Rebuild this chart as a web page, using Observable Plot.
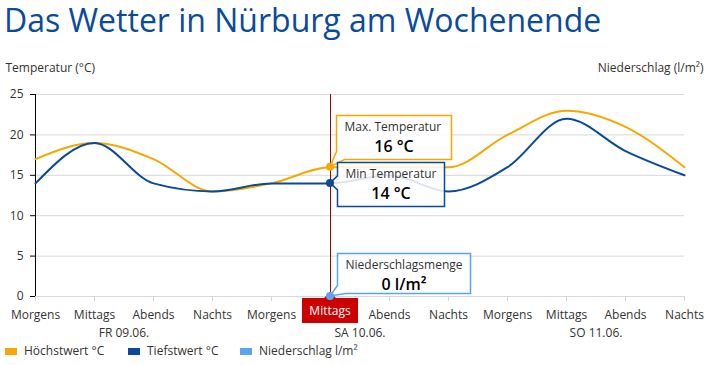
<!DOCTYPE html>
<html>
<head>
<meta charset="utf-8">
<script src="https://cdn.jsdelivr.net/npm/d3@7"></script>
<script src="https://cdn.jsdelivr.net/npm/@observablehq/plot@0.6"></script>
<style>
  html, body { margin: 0; padding: 0; background: #fff; }
  #wrap { position: relative; width: 707px; height: 365px; font-family: "Open Sans", sans-serif; overflow: hidden; }
  #title { position: absolute; left: 4px; top: 2px; font-size: 32px; line-height: 36px; color: #0a4b9b; white-space: nowrap; }
  #chart { position: absolute; left: 0; top: 50px; }
  #legend { position: absolute; left: 0; top: 342px; width: 707px; height: 20px; font-size: 12px; color: #333; line-height: 18px; }
  .item { position: absolute; top: 0; display: flex; align-items: center; white-space: nowrap; }
  .sw { width: 12px; height: 7px; margin-right: 7px; }
</style>
</head>
<body>
<div id="wrap">
  <div id="title">Das Wetter in Nürburg am Wochenende</div>
  <div id="chart"></div>
  <div id="legend"></div>
</div>
<script>
// ---- data ----
const times = ["Morgens", "Mittags", "Abends", "Nachts", "Morgens", "Mittags", "Abends", "Nachts", "Morgens", "Mittags", "Abends", "Nachts"];
const maxTemp = [17, 19, 17, 13, 14, 16, 16, 16, 20, 23, 21, 16];
const minTemp = [14, 19, 14, 13, 14, 14, 15, 13, 16, 22, 18, 15];
const precip = [0, 0, 0, 0, 0, 0, 0, 0, 0, 0, 0, 0];
const days = ["FR 09.06.", "SA 10.06.", "SO 11.06."];
const dayPos = [1.5, 5.5, 9.5];
const yTicks = [0, 5, 10, 15, 20, 25];
const seriesNames = ["Höchstwert °C", "Tiefstwert °C", "Niederschlag l/m²"];
const selected = 5;

const C = { max: "#f7a800", min: "#0a4a98", rain: "#5aa5f0", red: "#cc0000", cross: "#a00000" };

const idx = times.map((_, i) => i);
const maxData = idx.map(i => ({ i, v: maxTemp[i] }));
const minData = idx.map(i => ({ i, v: minTemp[i] }));
const dayData = days.map((d, k) => ({ i: dayPos[k], label: d }));

function overlay(index, scales) {
  const x = scales.x, y = scales.y;
  const px = Math.round(x(selected));
  const g = d3.create("svg:g").attr("text-anchor", "start");
  // red label on x axis
  const y0 = y(0);
  const lt = y0 + 2, lw = 56, lh = 25;
  g.append("path")
    .attr("d", `M${px - lw / 2},${lt} H${px - 6} L${px},${lt - 6} L${px + 6},${lt} H${px + lw / 2} V${lt + lh} H${px - lw / 2} Z`)
    .attr("fill", C.red);
  g.append("text").attr("x", px).attr("y", lt + lh / 2).attr("dy", "0.35em")
    .attr("text-anchor", "middle").attr("fill", "#fff").attr("font-size", 12).text(times[selected]);

  const boxes = [
    { v: maxTemp[selected], color: C.max, label: "Max. Temperatur", text: maxTemp[selected] + " °C", dx: 6, top: -52, w: 115, h: 44, side: false },
    { v: minTemp[selected], color: C.min, label: "Min Temperatur", text: minTemp[selected] + " °C", dx: 7, top: -21, w: 107, h: 44, side: true },
    { v: precip[selected], color: C.rain, label: "Niederschlagsmenge", text: precip[selected] + " l/m²", dx: 7, top: -43, w: 133, h: 40, side: false }
  ];
  for (const b of boxes) {
    const py = y(b.v);
    const L = px + b.dx + 0.5, T = Math.round(py + b.top) + 0.5, R = L + b.w, B = T + b.h;
    const d = b.side
      ? `M${L},${T} H${R} V${B} H${L} V${py + 7} L${px},${py} L${L},${py - 7} Z`
      : `M${L},${T} H${R} V${B} H${L + 8} L${px},${py} L${L},${B - 8} Z`;
    g.append("path").attr("d", d).attr("fill", "#fff").attr("fill-opacity", 0.85)
      .attr("stroke", b.color).attr("stroke-width", 1.5);
    g.append("text").attr("x", L + 8).attr("y", T + 11).attr("dy", "0.35em")
      .attr("text-anchor", "start").attr("fill", "#333").attr("font-size", 12).text(b.label);
    g.append("text").attr("x", (L + R) / 2).attr("y", T + 30.5).attr("dy", "0.35em")
      .attr("text-anchor", "middle").attr("fill", "#000").attr("font-size", 16).attr("font-weight", 600).text(b.text);
  }
  // points
  [[maxTemp, C.max], [minTemp, C.min], [precip, C.rain]].forEach(([arr, col]) => {
    g.append("circle").attr("cx", px).attr("cy", y(arr[selected])).attr("r", 4).attr("fill", col);
  });
  return g.node();
}

const chart = Plot.plot({
  width: 707,
  height: 290,
  marginTop: 44,
  marginBottom: 44,
  marginLeft: 35,
  marginRight: 23,
  style: { fontFamily: "Open Sans, sans-serif", fontSize: "12px", color: "#333", background: "transparent" },
  x: { type: "linear", domain: [0, times.length - 1], axis: null },
  y: { domain: [0, 25], axis: null },
  marks: [
    Plot.gridY(yTicks, { stroke: "#d8d8d8", strokeOpacity: 1 }),
    Plot.axisX(idx, { tickSize: 5, tickPadding: 9, stroke: "#ccd6eb", fill: "#333", fontSize: 12, tickFormat: i => (i === selected ? "" : times[i]), label: null }),
    Plot.axisY(yTicks, { tickSize: 5, tickPadding: 7, stroke: "#000", fill: "#333", fontSize: 12, label: null }),
    Plot.ruleX([0], { stroke: "#000" }),
    Plot.text(dayData, { x: "i", text: "label", frameAnchor: "bottom", dy: 40, fill: "#333", fontSize: 12 }),
    Plot.text(["Temperatur (°C)"], { frameAnchor: "top-left", dx: -30, dy: -31, textAnchor: "start", fill: "#333", fontSize: 12 }),
    Plot.text(["Niederschlag (l/m²)"], { frameAnchor: "top-right", dx: 19, dy: -31, textAnchor: "end", fill: "#333", fontSize: 12 }),
    Plot.ruleX([selected], { stroke: C.cross, strokeWidth: 1 }),
    Plot.line(maxData, { x: "i", y: "v", stroke: C.max, strokeWidth: 2, curve: "monotone-x" }),
    Plot.line(minData, { x: "i", y: "v", stroke: C.min, strokeWidth: 2, curve: "monotone-x" }),
    overlay
  ]
});
document.getElementById("chart").appendChild(chart);

const legend = document.getElementById("legend");
[[seriesNames[0], C.max, 5], [seriesNames[1], C.min, 128], [seriesNames[2], C.rain, 240]].forEach(([name, col, left]) => {
  const it = document.createElement("div");
  it.className = "item";
  it.style.left = left + "px";
  it.innerHTML = `<span class="sw" style="background:${col}"></span><span>${name}</span>`;
  legend.appendChild(it);
});
</script>
</body>
</html>
